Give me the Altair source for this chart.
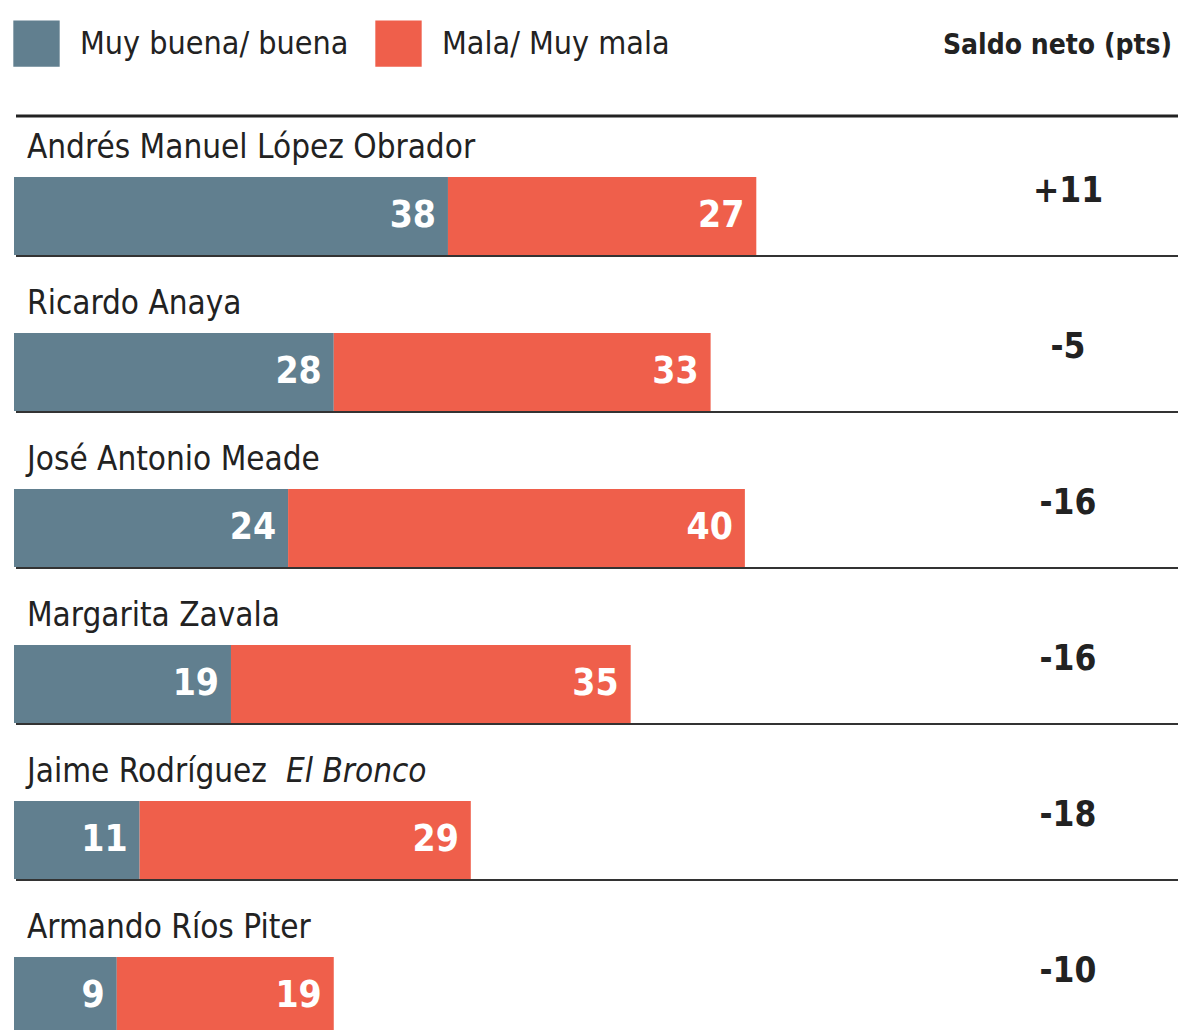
import altair as alt
import pandas as pd

candidatos = ["Andrés Manuel López Obrador", "Ricardo Anaya", "José Antonio Meade",
              "Margarita Zavala", "Jaime Rodríguez", "Armando Ríos Piter"]
sufijos = ["", "", "", "", "El Bronco", ""]
buena = [38, 28, 24, 19, 11, 9]
mala = [27, 33, 40, 35, 29, 19]
saldo = ["+11", "-5", "-16", "-16", "-18", "-10"]
series = ["Muy buena/ buena", "Mala/ Muy mala"]
colores = ["#617F8F", "#EF5F4B"]

rows = []
for c, b, m in zip(candidatos, buena, mala):
    rows.append({"cand": c, "serie": series[0], "valor": b, "start": 0, "end": b})
    rows.append({"cand": c, "serie": series[1], "valor": m, "start": b, "end": b + m})
bars_df = pd.DataFrame(rows)
cand_df = pd.DataFrame({"cand": candidatos, "sufijo": sufijos, "saldo": saldo})

FONT = "Liberation Sans Narrow, DejaVu Sans Condensed, Roboto Condensed, Roboto, sans-serif"

def yscale():
    return alt.Scale(domain=candidatos, range=[130, 1066],
                     paddingInner=0.5, paddingOuter=0.25)

y_enc = alt.Y("cand:N", sort=candidatos, axis=None, scale=yscale())
x_scale = alt.Scale(domain=[0, 100], nice=False, zero=True)

bars = alt.Chart(bars_df).mark_bar(cornerRadius=0).encode(
    x=alt.X("start:Q", scale=x_scale, axis=None),
    x2="end:Q",
    y=y_enc,
    color=alt.Color("serie:N", sort=series,
                    scale=alt.Scale(domain=series, range=colores),
                    legend=alt.Legend(title=None, orient="none", direction="horizontal",
                                      legendX=-1, legendY=12, padding=0,
                                      symbolType="square", symbolSize=2150,
                                      symbolStrokeWidth=0, symbolOpacity=1,
                                      labelFont=FONT, labelFontSize=32,
                                      labelColor="#222222", labelOffset=20,
                                      columnPadding=26, labelLimit=400)),
)

vals = alt.Chart(bars_df).mark_text(align="right", baseline="middle", dx=-12, dy=0,
                                    font=FONT, fontSize=37, fontWeight="bold",
                                    color="white").encode(
    x=alt.X("end:Q", scale=x_scale),
    y=y_enc,
    text="valor:Q",
)

# yOffset is measured from the top of each band
rules = alt.Chart(cand_df).mark_rule(color="#333333", strokeWidth=2).encode(
    y=y_enc,
    x=alt.value(2), x2=alt.value(1164),
    yOffset=alt.value(79),
)

top_rule = alt.Chart(cand_df).transform_filter(
    alt.datum.cand == candidatos[0]
).mark_rule(color="#222222", strokeWidth=3).encode(
    y=y_enc,
    x=alt.value(2), x2=alt.value(1164),
    yOffset=alt.value(-61),
)

names = alt.Chart(cand_df).mark_text(align="left", baseline="alphabetic",
                                     font=FONT, fontSize=33, color="#222222").encode(
    y=y_enc,
    x=alt.value(13),
    yOffset=alt.value(-19),
    text="cand:N",
)

suf = alt.Chart(cand_df).transform_filter(
    alt.datum.sufijo != ""
).mark_text(align="left", baseline="alphabetic", font=FONT, fontSize=33,
            fontStyle="italic", color="#222222").encode(
    y=y_enc,
    x=alt.value(272),
    yOffset=alt.value(-19),
    text="sufijo:N",
)

net = alt.Chart(cand_df).mark_text(align="center", baseline="middle",
                                   font=FONT, fontSize=35, fontWeight="bold",
                                   color="#222222").encode(
    y=y_enc,
    x=alt.value(1054),
    yOffset=alt.value(14),
    text="saldo:N",
)

header = alt.Chart(pd.DataFrame({"t": ["Saldo neto (pts)"]})).mark_text(
    align="right", baseline="middle", font=FONT, fontSize=28, fontWeight="bold",
    color="#222222").encode(
    x=alt.value(1158), y=alt.value(38), text="t:N",
)

chart = alt.layer(bars, vals, rules, top_rule, names, suf, net, header).properties(
    width=1142, height=1022,
    autosize=alt.AutoSizeParams(type="none"),
    padding={"left": 6, "top": 0, "right": 22, "bottom": 0},
    background="white",
).configure_view(stroke=None)

chart.save("out.html", embed_options={"renderer": "svg", "actions": False})
